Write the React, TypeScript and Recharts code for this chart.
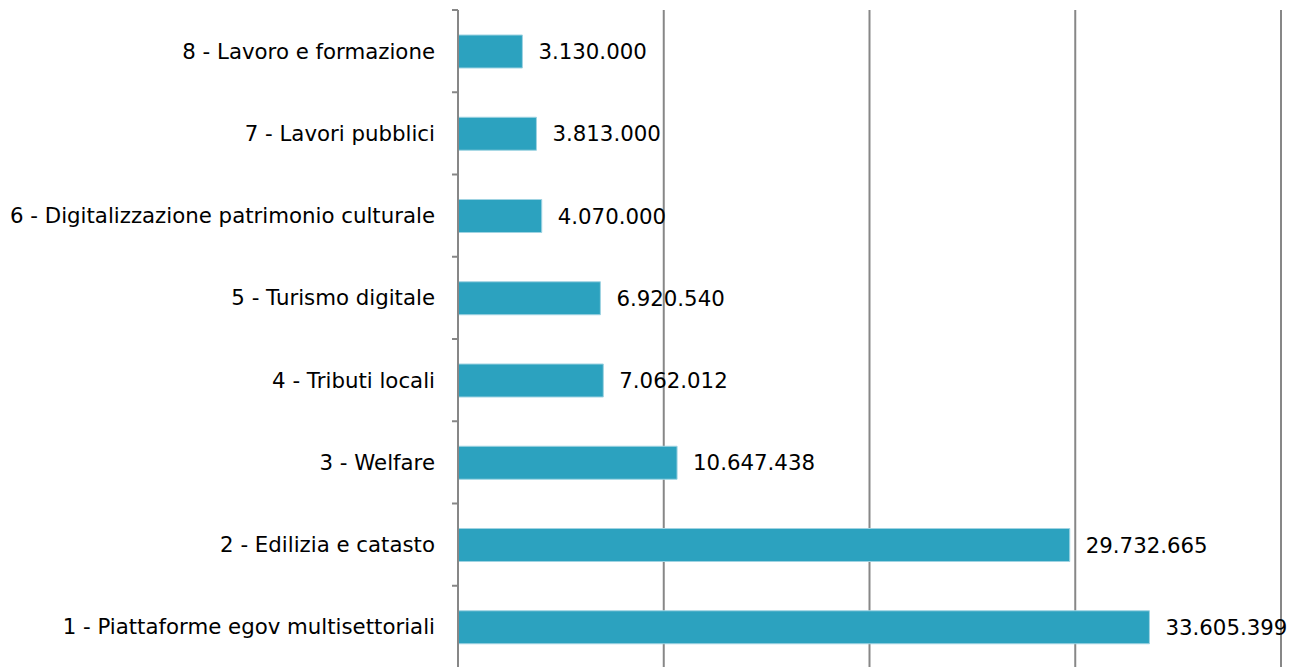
import React from 'react';
import { BarChart, Bar, XAxis, YAxis, CartesianGrid, LabelList } from 'recharts';

const categories = [
  '8 - Lavoro e formazione',
  '7 - Lavori pubblici',
  '6 - Digitalizzazione patrimonio culturale',
  '5 - Turismo digitale',
  '4 - Tributi locali',
  '3 - Welfare',
  '2 - Edilizia e catasto',
  '1 - Piattaforme egov multisettoriali',
];
const values = [3130000, 3813000, 4070000, 6920540, 7062012, 10647438, 29732665, 33605399];
const xTicks = [0, 10000000, 20000000, 30000000, 40000000];

const data = categories.map((name, i) => ({ name, value: values[i] }));

const fmt = (v: any) => String(v).replace(/\B(?=(\d{3})+(?!\d))/g, '.');

const font = '"DejaVu Sans", sans-serif';
const grey = '#878787';

// category label plus a tick mark on the band boundary (the original puts marks between bars)
const CatTick = (props: any) => {
  const { x, y, payload, index } = props;
  const half = payload && payload.offset ? payload.offset : 0;
  const ax = x + 17;
  return <g>
      <line x1={ax} x2={ax + 6} y1={y - half} y2={y - half} stroke={grey} strokeWidth={2} />
      {index === categories.length - 1 && <line x1={ax} x2={ax + 6} y1={y + half} y2={y + half} stroke={grey} strokeWidth={2} />}
      <text x={x} y={y} dy="0.355em" textAnchor="end" fill="#000" fontSize={21.3} fontFamily={font}>{payload.value}</text>
    </g>;
};

const App = () => {
  return <div style={{ position: 'absolute', left: 0, top: 0, width: 1296, height: 667, overflow: 'hidden', background: '#fff' }}>
      <BarChart width={1296} height={670} data={data} layout="vertical" margin={{
      top: 10,
      right: 15,
      left: 0,
      bottom: 2
    }}>
        <CartesianGrid horizontal={false} stroke={grey} strokeWidth={2} />
        <XAxis type="number" domain={[0, 40000000]} ticks={xTicks} hide />
        <YAxis type="category" dataKey="name" width={458} tickLine={false} tickSize={6} tickMargin={17} axisLine={{
        stroke: grey,
        strokeWidth: 2
      }} tick={<CatTick />} />
        <Bar dataKey="value" fill="#2ca2bf" stroke="#9fd3e2" strokeWidth={1} barSize={33} isAnimationActive={false}>
          <LabelList dataKey="value" position="right" offset={16} formatter={fmt} style={{
          fill: '#000',
          fontSize: 21.3,
          fontFamily: font
        }} />
        </Bar>
      </BarChart>
    </div>;
};

export default App;
